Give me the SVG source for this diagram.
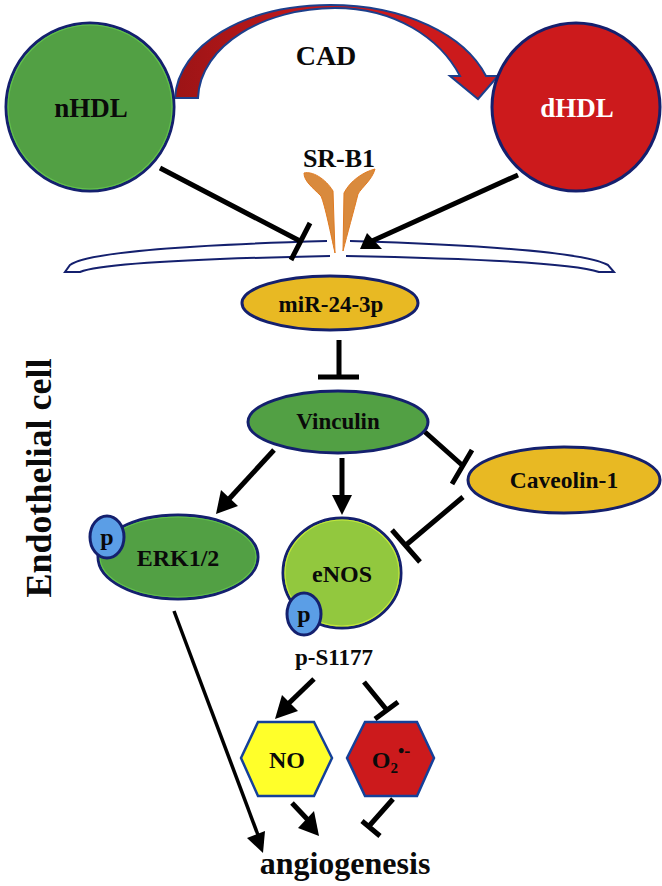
<svg xmlns="http://www.w3.org/2000/svg" width="662" height="886" viewBox="0 0 662 886">
<style>
text{font-family:"Liberation Serif","Times New Roman",serif;font-weight:700;text-anchor:middle;fill:#0a0a0a}
.navy{stroke:#14206e;stroke-width:3}
.green{fill:#52a044}
.red{fill:#cc1a1c}
.gold{fill:#e8b923}
.lime{fill:#92c83e}
.blue{fill:#5b9ee6}
.rim-g{fill:none;stroke:#62c04c;stroke-width:1.2}
.rim-l{fill:none;stroke:#c4e83c;stroke-width:1.2}
.line{fill:none;stroke:#000;stroke-width:5}
.thin{stroke-width:3.5}
.head{fill:#000;stroke:none}
.mem{fill:none;stroke:#14206e;stroke-width:2}
.orange{fill:#d98a3d;stroke:#e07a20;stroke-width:1}
.hex{stroke:#14409a;stroke-width:2.5}
</style>
<defs>
<linearGradient id="sweep" gradientUnits="userSpaceOnUse" x1="175" y1="0" x2="345" y2="0">
<stop offset="0" stop-color="#9c1416"/><stop offset="1" stop-color="#cc1a1c"/>
</linearGradient>
</defs>

<!-- curved CAD conversion arrow -->
<g id="cad-arrow">
<path d="M175 98 C178 45 245 5 330 5 C405 5 465 35 486 76 L498 76 L478 99 L450 76 L460 76 C440 38 395 8 335 8 C265 8 200 45 198 98 Z" fill="url(#sweep)" stroke="#1c3f8c" stroke-width="2"/>
</g>
<text x="326" y="65" font-size="28">CAD</text>

<g id="nHDL">
<ellipse cx="90" cy="107" rx="84" ry="84" class="green navy"/>
<ellipse cx="90" cy="107" rx="82" ry="82" class="rim-g"/>
<text x="91" y="117" font-size="27">nHDL</text>
</g>
<g id="dHDL">
<ellipse cx="576" cy="107" rx="84" ry="84" class="red navy"/>
<text x="577" y="117" font-size="27" style="fill:#fff">dHDL</text>
</g>

<!-- plasma membrane, split around the receptor -->
<g id="membrane">
<path class="mem" d="M327 241 C220 244 90 250 70 265 L65 272 L80 272 C105 262 230 258 330 256"/>
<path class="mem" d="M350 241 C450 244 580 250 608 265 L614 272 L599 272 C570 262 450 258 346 256"/>
</g>

<g id="SR-B1">
<text x="339" y="167" font-size="26">SR-B1</text>
<path class="orange" d="M304 173 C312 171 325 178 333 191 L335 253 C331 235 325 205 321 196 C312 187 304 181 304 173Z"/>
<path class="orange" d="M375 169 C372 180 362 187 358 194 C354 210 347 235 343 251 L344 193 C350 181 363 172 375 169Z"/>
</g>

<g id="miR-24-3p">
<ellipse cx="330" cy="303" rx="88" ry="27" class="gold navy"/>
<text x="331" y="312" font-size="23">miR-24-3p</text>
</g>
<g id="Vinculin">
<ellipse cx="338" cy="422" rx="90" ry="31" class="green navy"/>
<text x="338" y="429" font-size="23">Vinculin</text>
</g>
<g id="Caveolin-1">
<ellipse cx="564" cy="480" rx="96" ry="33" class="gold navy"/>
<text x="564" y="488" font-size="23.5">Caveolin-1</text>
</g>
<g id="ERK">
<ellipse cx="178" cy="557" rx="80" ry="42" class="green navy"/>
<ellipse cx="178" cy="557" rx="78" ry="40" class="rim-g"/>
<text x="178" y="566" font-size="24">ERK1/2</text>
<ellipse cx="107" cy="537" rx="17" ry="21" class="blue navy"/>
<text x="107" y="545" font-size="24">p</text>
</g>
<g id="eNOS">
<ellipse cx="342" cy="573" rx="59" ry="55" class="lime navy"/>
<ellipse cx="342" cy="573" rx="57" ry="53" class="rim-l"/>
<text x="342" y="582" font-size="24">eNOS</text>
<ellipse cx="304" cy="614" rx="17" ry="21" class="blue navy"/>
<text x="304" y="622" font-size="24">p</text>
</g>
<text x="334" y="665" font-size="23">p-S1177</text>

<g id="NO">
<polygon class="hex" fill="#ffff2a" points="241,758 258,722 314,722 332,758 314,796 258,796"/>
<text x="287" y="768" font-size="24">NO</text>
</g>
<g id="O2">
<polygon class="hex" fill="#cc1a1c" points="347,758 365,722 417,722 434,758 417,796 365,796"/>
<text x="391" y="768" font-size="24">O<tspan font-size="15" dy="5">2</tspan><tspan font-size="18" dy="-16">•-</tspan></text>
</g>
<text x="345" y="874" font-size="32">angiogenesis</text>
<text transform="translate(51 478) rotate(-90)" font-size="36">Endothelial cell</text>

<!-- activation and inhibition connectors -->
<g id="connectors">
<path class="line" d="M160 168 L300 241 M310 223 L291 260"/>
<path class="line" d="M518 175 L372 241"/>
<polygon class="head" points="360,249 367,233 382,249"/>
<path class="line" d="M339 340 V377 M318 377 H359"/>
<path class="line" d="M274 450 L229 499"/>
<polygon class="head" points="216,514 221,490 238,506"/>
<path class="line" d="M342 458 V497"/>
<polygon class="head" points="342,515 332,495 352,495"/>
<path class="line" d="M425 432 L462 465 M472 450 L452 484"/>
<path class="line" d="M463 497 L406 545 M392 530 L420 562"/>
<path class="line thin" d="M174 611 L258 835"/>
<polygon class="head" points="263,853 247,838 265,831"/>
<path class="line" d="M314 679 L287 705"/>
<polygon class="head" points="275,719 282,695 298,711"/>
<path class="line" d="M364 682 L386 709 M398 702 L375 719"/>
<path class="line" d="M292 803 L308 820"/>
<polygon class="head" points="319,836 298,828 314,811"/>
<path class="line" d="M393 799 L370 825 M362 821 L380 836"/>
</g>
</svg>
